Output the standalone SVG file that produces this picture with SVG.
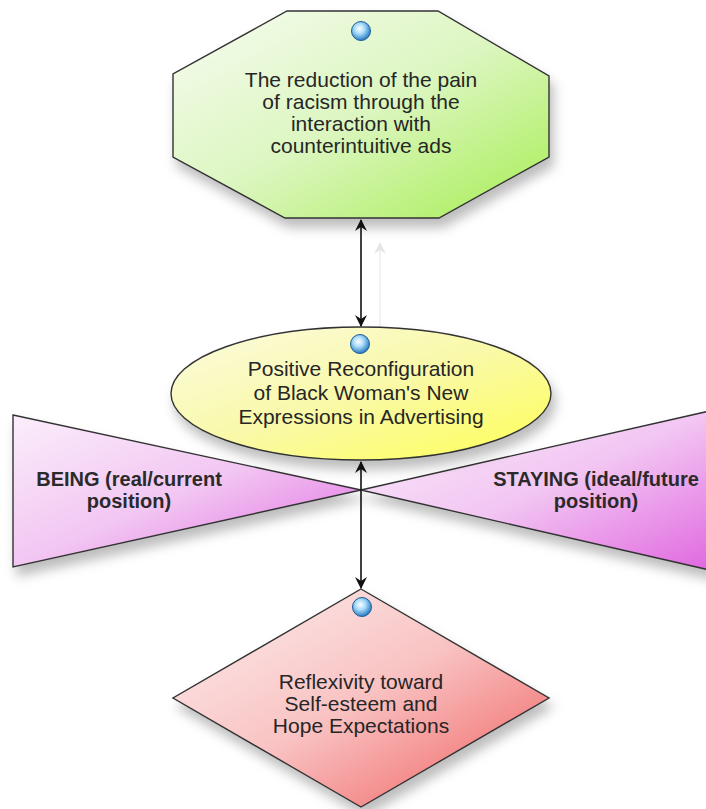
<svg xmlns="http://www.w3.org/2000/svg" width="706" height="809" viewBox="0 0 706 809">
<defs>
<style>
.lbl{font-family:"Liberation Sans",Arial,sans-serif;font-size:21px;fill:#262626;text-anchor:middle}
.bold{font-family:"Liberation Sans",Arial,sans-serif;font-size:20px;font-weight:bold;fill:#2a2a2a;text-anchor:middle}
.shape{stroke:#333;stroke-width:1.4;filter:url(#sh)}
.conn{stroke:#111;stroke-width:1.6;fill:none;marker-start:url(#ah);marker-end:url(#ah)}
</style>
<filter id="sh" x="-10%" y="-10%" width="130%" height="140%">
<feDropShadow dx="4" dy="9" stdDeviation="6" flood-color="#000" flood-opacity="0.26"/>
</filter>
<linearGradient id="gGreen" x1="0" y1="0" x2="1" y2="1">
<stop offset="0" stop-color="#f7fcf1"/><stop offset="0.5" stop-color="#dcf6c0"/><stop offset="1" stop-color="#a6ee52"/>
</linearGradient>
<linearGradient id="gYellow" x1="0" y1="0" x2="1" y2="1">
<stop offset="0" stop-color="#fbfbe2"/><stop offset="0.5" stop-color="#f9f9a8"/><stop offset="1" stop-color="#ffff55"/>
</linearGradient>
<linearGradient id="gPink" x1="0" y1="0" x2="1" y2="1">
<stop offset="0" stop-color="#fbeefb"/><stop offset="0.5" stop-color="#f2c6f2"/><stop offset="1" stop-color="#e066e0"/>
</linearGradient>
<linearGradient id="gRed" x1="0" y1="0" x2="1" y2="1">
<stop offset="0" stop-color="#fdf0f0"/><stop offset="0.5" stop-color="#f9c2c2"/><stop offset="1" stop-color="#f05a5a"/>
</linearGradient>
<radialGradient id="gDot" cx="0.42" cy="0.38" r="0.6">
<stop offset="0" stop-color="#ffffff"/><stop offset="0.45" stop-color="#a9dcfb"/><stop offset="1" stop-color="#2f7fc4"/>
</radialGradient>
<marker id="ah" viewBox="0 0 12 12" refX="11" refY="6" markerWidth="12" markerHeight="12" markerUnits="userSpaceOnUse" orient="auto-start-reverse">
<path d="M0,0 L12,6 L0,12 L4,6 Z" fill="#111"/>
</marker>
<marker id="ahg" viewBox="0 0 12 12" refX="11" refY="6" markerWidth="12" markerHeight="12" markerUnits="userSpaceOnUse" orient="auto">
<path d="M0,0 L12,6 L0,12 L4,6 Z" fill="#e6e6e6"/>
</marker>
</defs>

<g id="node-being">
<polygon class="shape" points="13,415 361,490 13,567" fill="url(#gPink)"/>
<text class="bold" x="129" y="486">BEING (real/current</text>
<text class="bold" x="129" y="508">position)</text>
</g>
<g id="node-staying">
<polygon class="shape" points="361,490 714,410 714,571" fill="url(#gPink)"/>
<text class="bold" x="596" y="486">STAYING (ideal/future</text>
<text class="bold" x="596" y="508">position)</text>
</g>

<g id="node-reduction">
<polygon class="shape" points="287,11 438,11 549,76 549,157 439,218 285,218 173,157 173,74" fill="url(#gGreen)"/>
<circle cx="361" cy="31" r="9.5" fill="url(#gDot)" stroke="#1d5f9a" stroke-width="1"/>
<text class="lbl" x="361" y="87">The reduction of the pain</text>
<text class="lbl" x="361" y="109">of racism through the</text>
<text class="lbl" x="361" y="131">interaction with</text>
<text class="lbl" x="361" y="153">counterintuitive ads</text>
</g>

<g id="node-reconfiguration">
<ellipse class="shape" cx="361" cy="393.5" rx="190" ry="66.5" fill="url(#gYellow)"/>
<circle cx="360" cy="344" r="9.5" fill="url(#gDot)" stroke="#1d5f9a" stroke-width="1"/>
<text class="lbl" x="361" y="376">Positive Reconfiguration</text>
<text class="lbl" x="361" y="400">of Black Woman's New</text>
<text class="lbl" x="361" y="424">Expressions in Advertising</text>
</g>

<g id="node-reflexivity">
<polygon class="shape" points="361,589 549,698 361,807 173,698" fill="url(#gRed)"/>
<circle cx="362" cy="607" r="9.5" fill="url(#gDot)" stroke="#1d5f9a" stroke-width="1"/>
<text class="lbl" x="361" y="689">Reflexivity toward</text>
<text class="lbl" x="361" y="711">Self-esteem and</text>
<text class="lbl" x="361" y="733">Hope Expectations</text>
</g>

<g id="connectors">
<line x1="380" y1="326" x2="380" y2="243" stroke="#ececec" stroke-width="1.5" marker-end="url(#ahg)"/>
<line class="conn" x1="361" y1="220" x2="361" y2="326"/>
<line class="conn" x1="361" y1="462" x2="361" y2="588"/>
</g>
</svg>
